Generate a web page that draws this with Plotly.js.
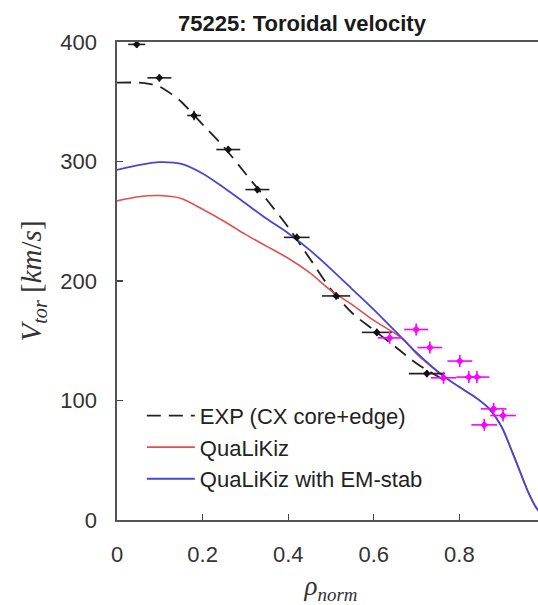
<!DOCTYPE html>
<html>
<head>
<meta charset="utf-8">
<script src="https://cdn.plot.ly/plotly-3.0.1.min.js"></script>
<style>
html, body { margin:0; padding:0; overflow:hidden; background:#fff; }
#chart { width:561px; height:605px; }
</style>
</head>
<body>
<div id="chart"></div>
<script>
// ---- data ----
const expFitRho = [0, 0.05, 0.075, 0.1, 0.125, 0.15, 0.2, 0.25, 0.3, 0.35, 0.4, 0.45, 0.5, 0.55, 0.6, 0.65, 0.7, 0.76];
const expFitV   = [366, 366, 365, 362.5, 357, 350, 331, 312, 290, 268, 245, 219, 193, 173, 159, 145, 131, 118];

const qlkRho = [0, 0.05, 0.1, 0.15, 0.2, 0.25, 0.3, 0.35, 0.4, 0.45, 0.5, 0.55, 0.6, 0.65, 0.67, 0.7, 0.75, 0.78, 0.81, 0.84, 0.87, 0.9, 0.92, 0.94, 0.96, 0.98, 1.0];
const qlkV   = [267, 270.5, 271.5, 269, 260, 250, 239, 229, 219, 207, 192, 180, 167, 156, 151, 139, 124, 116, 109, 102, 93, 77, 60, 42, 24, 10, 2];

const emRho = [0, 0.05, 0.1, 0.15, 0.2, 0.25, 0.3, 0.35, 0.4, 0.45, 0.5, 0.55, 0.6, 0.65, 0.7, 0.75, 0.78, 0.81, 0.84, 0.87, 0.9, 0.92, 0.94, 0.96, 0.98, 1.0];
const emV   = [293, 297, 299.5, 298, 290, 278, 265, 252, 240, 226, 210, 193, 176, 158, 140, 124, 116, 109, 102, 93, 77, 60, 42, 24, 10, 2];

const cxCoreRho  = [0.046, 0.099, 0.180, 0.260, 0.328, 0.420, 0.512, 0.607, 0.724];
const cxCoreV    = [398, 370, 338.5, 310, 276.5, 236.5, 187.5, 157, 122.5];
const cxCoreRhoErr = [0.02, 0.028, 0.016, 0.028, 0.028, 0.03, 0.033, 0.035, 0.042];
const cxCoreVErr   = [3, 3, 4, 3, 3, 3, 3, 3, 3];

const cxEdgeRho  = [0.637, 0.699, 0.731, 0.763, 0.801, 0.822, 0.841, 0.858, 0.880, 0.902];
const cxEdgeV    = [152.4, 159.4, 144.3, 119, 133, 119.6, 119.6, 79.6, 93, 87.4];
const cxEdgeRhoErr = [0.028, 0.028, 0.029, 0.03, 0.029, 0.029, 0.029, 0.03, 0.03, 0.03];
const cxEdgeVErr   = [5, 5, 5, 5, 5, 5, 5, 5, 5, 5];

const legendNames = ['EXP (CX core+edge)', 'QuaLiKiz', 'QuaLiKiz with EM-stab'];
const xTicks = [0, 0.2, 0.4, 0.6, 0.8, 1];
const xTickText = ['0', '0.2', '0.4', '0.6', '0.8', '1'];
const yTicks = [0, 100, 200, 300, 400];

const sans = '"Liberation Sans", Arial, sans-serif';
const serif = '"Liberation Serif", "DejaVu Serif", serif';

const traces = [
  { x: expFitRho, y: expFitV, mode: 'lines', name: legendNames[0],
    line: { color: '#222', width: 1.8, dash: '14px,8px', shape: 'spline', smoothing: 0.8 } },
  { x: qlkRho, y: qlkV, mode: 'lines', name: legendNames[1],
    line: { color: '#e0504e', width: 1.6, shape: 'spline', smoothing: 0.8 } },
  { x: emRho, y: emV, mode: 'lines', name: legendNames[2],
    line: { color: '#4646d2', width: 1.8, shape: 'spline', smoothing: 0.8 } },
  { x: cxCoreRho, y: cxCoreV, mode: 'markers', showlegend: false,
    marker: { color: '#111', size: 6, symbol: 'diamond' },
    error_x: { type: 'data', array: cxCoreRhoErr, width: 0, thickness: 1.6, color: '#222' },
    error_y: { type: 'data', array: cxCoreVErr, width: 0, thickness: 1.6, color: '#222' } },
  { x: cxEdgeRho, y: cxEdgeV, mode: 'markers', showlegend: false,
    marker: { color: '#ff00ff', size: 6, symbol: 'diamond' },
    error_x: { type: 'data', array: cxEdgeRhoErr, width: 0, thickness: 1.6, color: '#ff00ff' },
    error_y: { type: 'data', array: cxEdgeVErr, width: 0, thickness: 1.6, color: '#ff00ff' } }
];

const layout = {
  width: 561, height: 605,
  margin: { l: 117, r: 16, t: 42, b: 85 },
  paper_bgcolor: '#fff', plot_bgcolor: '#fff',
  font: { family: sans, size: 22, color: '#262626' },
  showlegend: true,
  title: { text: '<b>75225: Toroidal velocity</b>', font: { family: sans, size: 22, color: '#1a1a1a' },
           xref: 'container', x: 302 / 561, xanchor: 'center', yref: 'container', y: 1 - 23 / 605, yanchor: 'middle' },
  xaxis: {
    range: [0, 1], tickvals: xTicks, ticktext: xTickText,
    ticks: 'inside', ticklen: 6, tickwidth: 1.2, tickcolor: '#444',
    showline: true, linecolor: '#555', linewidth: 1.6, mirror: true,
    showgrid: false, zeroline: false, ticklabelstandoff: 14,
    tickfont: { family: sans, size: 22, color: '#333' },
    title: { text: '<i>ρ</i><sub><i>norm</i></sub>', font: { family: serif, size: 27, color: '#333' }, standoff: 10 }
  },
  yaxis: {
    range: [0, 400], tickvals: yTicks,
    ticks: 'inside', ticklen: 6, tickwidth: 1.2, tickcolor: '#444',
    showline: true, linecolor: '#555', linewidth: 1.6, mirror: true,
    showgrid: false, zeroline: false, ticklabelstandoff: 14,
    tickfont: { family: sans, size: 22, color: '#333' },
    title: { text: '<i>V</i><sub><i>tor</i></sub> [<i>km</i>/<i>s</i>]', font: { family: serif, size: 29, color: '#333' }, standoff: 10 }
  },
  legend: {
    x: 0.058, y: 0.262, xanchor: 'left', yanchor: 'top',
    bgcolor: 'rgba(0,0,0,0)', borderwidth: 0,
    font: { family: sans, size: 22, color: '#222' },
    itemwidth: 48,
    tracegroupgap: 0
  }
};

Plotly.newPlot('chart', traces, layout, { staticPlot: true, displayModeBar: false });
</script>
</body>
</html>
